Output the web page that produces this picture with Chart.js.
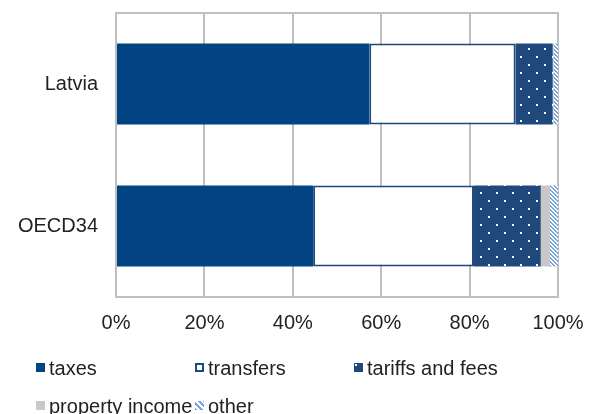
<!DOCTYPE html>
<html>
<head>
<meta charset="utf-8">
<title>Revenue structure</title>
<script src="https://cdn.jsdelivr.net/npm/chart.js@4.4.1/dist/chart.umd.min.js"></script>
<style>
    body {
        margin: 0;
        background: #fff;
    }

    .wrap {
        position: relative;
        width: 593px;
        height: 414px;
        font-family: "Liberation Sans", Arial, sans-serif;
    }

    .legend-item {
        position: absolute;
        font-size: 20px;
        color: #222;
        line-height: 20px;
        white-space: nowrap;
    }

    .swatch {
        position: absolute;
        width: 9px;
        height: 9px;
        box-sizing: border-box;
    }
</style>
</head>
<body>

<div class="wrap">
    <canvas id="revenueChart" width="593" height="414"></canvas>
    <div id="legend"></div>
</div>

<script>
// ===============================
// Data (share of revenue, %)
// ===============================

const countries = ["Latvia", "OECD34"];

const taxes = [57.3, 44.6];
const transfers = [33.1, 36.4];
const tariffsAndFees = [8.4, 15.1];
const propertyIncome = [0.2, 2.1];
const other = [1.0, 1.8];

const xTicks = ["0%", "20%", "40%", "60%", "80%", "100%"];

// ===============================
// Fill patterns
// ===============================

function dotPattern() {
    const c = document.createElement("canvas");
    c.width = 16;
    c.height = 16;
    const g = c.getContext("2d");
    g.fillStyle = "#1f497d";
    g.fillRect(0, 0, 16, 16);
    g.fillStyle = "#ffffff";
    g.fillRect(0, 0, 2, 2);
    g.fillRect(8, 8, 2, 2);
    return g.createPattern(c, "repeat");
}

function stripePattern() {
    const c = document.createElement("canvas");
    c.width = 4;
    c.height = 4;
    const g = c.getContext("2d");
    g.fillStyle = "#ffffff";
    g.fillRect(0, 0, 4, 4);
    g.fillStyle = "#76a5dc";
    g.fillRect(0, 0, 2, 1);
    g.fillRect(1, 1, 2, 1);
    g.fillRect(2, 2, 2, 1);
    g.fillRect(3, 3, 1, 1);
    g.fillRect(0, 3, 1, 1);
    return g.createPattern(c, "repeat");
}

// plot area box
const plotBorder = {
    id: "plotBorder",
    beforeDatasetsDraw(chart) {
        const a = chart.chartArea;
        const ctx = chart.ctx;
        ctx.save();
        ctx.strokeStyle = "#bfbfbf";
        ctx.lineWidth = 2;
        ctx.strokeRect(a.left, a.top, a.right - a.left, a.bottom - a.top);
        ctx.restore();
    }
};

// ===============================
// Chart
// ===============================

const labelFont = { family: "'Liberation Sans', Arial, sans-serif", size: 20 };

new Chart(document.getElementById("revenueChart"), {
    type: "bar",
    data: {
        labels: countries,
        datasets: [
            {
                label: "taxes",
                data: taxes,
                backgroundColor: "#024383",
                borderWidth: 0
            },
            {
                label: "transfers",
                data: transfers,
                backgroundColor: "#ffffff",
                borderColor: "#1f497d",
                borderWidth: 2,
                borderSkipped: false
            },
            {
                label: "tariffs and fees",
                data: tariffsAndFees,
                backgroundColor: dotPattern(),
                borderWidth: 0
            },
            {
                label: "property income",
                data: propertyIncome,
                backgroundColor: "#c8c8c8",
                borderWidth: 0
            },
            {
                label: "other",
                data: other,
                backgroundColor: stripePattern(),
                borderWidth: 0
            }
        ]
    },
    options: {
        indexAxis: "y",
        responsive: false,
        animation: false,
        categoryPercentage: 1,
        barPercentage: 0.57,
        layout: {
            padding: { top: 13, right: 35, left: 0, bottom: 0 }
        },
        plugins: {
            legend: { display: false },
            tooltip: { enabled: false }
        },
        scales: {
            x: {
                stacked: true,
                min: 0,
                max: 100,
                afterFit: scale => {
                    scale.height = 117;
                    scale.paddingLeft = 0;
                    scale.paddingRight = 0;
                },
                afterBuildTicks: scale => {
                    scale.ticks = xTicks.map((t, i) => ({ value: i * 20 }));
                },
                ticks: {
                    color: "#222",
                    font: labelFont,
                    padding: 14,
                    callback: (v, i) => xTicks[i]
                },
                grid: {
                    color: "#bfbfbf",
                    lineWidth: 2,
                    drawTicks: false
                },
                border: { display: false }
            },
            y: {
                stacked: true,
                afterFit: scale => {
                    scale.width = 116;
                    scale.paddingTop = 0;
                    scale.paddingBottom = 0;
                },
                ticks: {
                    color: "#222",
                    font: labelFont,
                    padding: 18
                },
                grid: { display: false, drawTicks: false },
                border: { display: false }
            }
        }
    },
    plugins: [plotBorder]
});

// ===============================
// Legend
// ===============================

const legendItems = [
    { text: "taxes", x: 36, y: 368, style: "background:#024383" },
    { text: "transfers", x: 195, y: 368, style: "background:#fff;border:2px solid #1f497d" },
    { text: "tariffs and fees", x: 354, y: 368,
      style: "background:radial-gradient(circle at 2px 2px,#fff 1px,#1f497d 1.5px)" },
    { text: "property income", x: 36, y: 406, style: "background:#c8c8c8" },
    { text: "other", x: 195, y: 406,
      style: "background:repeating-linear-gradient(45deg,#76a5dc 0 2px,#fff 2px 4px)" }
];

const legend = document.getElementById("legend");

legendItems.forEach(item => {
    legend.insertAdjacentHTML("beforeend", `
        <span class="swatch" style="left:${item.x}px;top:${item.y - 5}px;${item.style}"></span>
        <span class="legend-item" style="left:${item.x + 13}px;top:${item.y - 10}px">${item.text}</span>
    `);
});
</script>

</body>
</html>
